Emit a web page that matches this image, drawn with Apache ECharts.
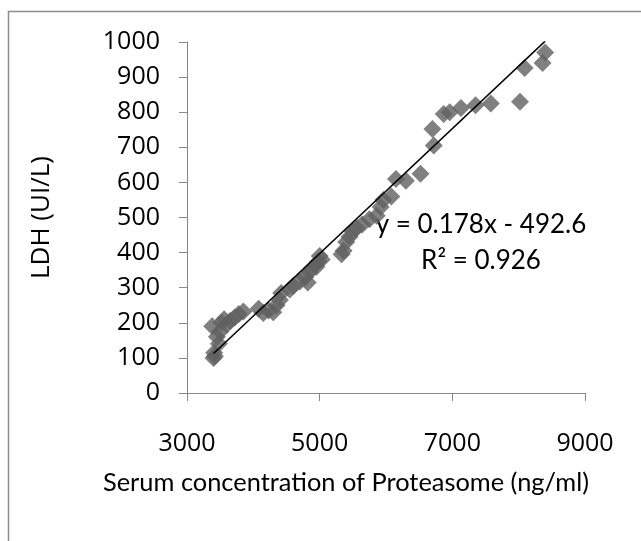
<!DOCTYPE html>
<html><head><meta charset="utf-8">
<script src="https://cdn.jsdelivr.net/npm/echarts@6/dist/echarts.min.js"></script>
<style>html,body{margin:0;padding:0;background:#fff}#c{width:641px;height:541px}</style>
</head><body><div id="c"></div>
<script>
const proteasome = [3400,3410,3420,3380,3450,3480,3500,3520,3560,3600,3650,3720,3780,3850,4080,4150,4230,4300,4350,4420,4400,4550,4600,4700,4780,4820,4850,4880,4950,4980,5000,5030,5330,5360,5400,5450,5500,5560,5640,5750,5860,5920,5960,6080,6150,6300,6520,6720,6700,6870,6960,7130,7350,7580,8020,8090,8360,8400];
const ldh = [100,115,105,190,160,140,175,200,210,195,205,215,225,232,240,228,235,230,250,285,265,295,305,318,330,315,345,355,360,375,390,380,395,405,430,445,460,470,480,495,505,530,550,560,610,605,625,705,752,795,800,812,820,825,830,926,940,970];
const slope = 0.178, intercept = -492.6;
const trendRange = [3400, 8400];
const xTicks = [3000, 5000, 7000, 9000];
const equationText = 'y = 0.178x - 492.6';
const r2Text = 'R² = 0.926';

const pts = proteasome.map((x, i) => [x, ldh[i]]);
const trend = trendRange.map(x => [x, slope * x + intercept]);
const chart = echarts.init(document.getElementById('c'), null, {renderer: 'canvas'});
const font = 'Open Sans';
chart.setOption({
  animation: false,
  backgroundColor: '#fff',
  grid: {left: 187, top: 42, right: 56, bottom: 148, containLabel: false},
  xAxis: {
    type: 'value', min: xTicks[0], max: xTicks[xTicks.length - 1], interval: 2000,
    splitLine: {show: false},
    axisLine: {lineStyle: {color: '#888', width: 1}},
    axisTick: {length: 8, lineStyle: {color: '#888'}},
    axisLabel: {color: '#000', fontSize: 25, fontFamily: font, margin: 38, formatter: v => String(v)},
    name: 'Serum concentration of Proteasome (ng/ml)', nameLocation: 'middle', nameGap: 77,
    nameMoveOverlap: false,
    nameTextStyle: {color: '#000', fontSize: 25.4, fontFamily: 'Lato', padding: [0, 80, 0, 0]}
  },
  yAxis: {
    type: 'value', min: 0, max: 1000, interval: 100,
    splitLine: {show: false},
    axisLine: {show: true, lineStyle: {color: '#888', width: 1}},
    axisTick: {show: true, length: 8, lineStyle: {color: '#888'}},
    axisLabel: {color: '#000', fontSize: 25, fontFamily: font, margin: 27, formatter: v => String(v)},
    name: 'LDH (UI/L)', nameLocation: 'middle', nameGap: 132,
    nameMoveOverlap: false,
    nameTextStyle: {color: '#000', fontSize: 26, fontFamily: font}
  },
  series: [
    {type: 'scatter', data: pts, symbol: 'diamond', symbolSize: 18,
     itemStyle: {color: '#606060'}, z: 2},
    {type: 'line', data: trend, symbol: 'none', lineStyle: {color: '#000', width: 1.5}, z: 3}
  ],
  graphic: [
    {type: 'rect', shape: {x: 8.5, y: 11.5, width: 800, height: 800}, style: {fill: null, stroke: '#8c8c8c', lineWidth: 1.5}, silent: true},
    {type: 'text', x: 481, y: 225, style: {text: equationText, font: '26px Lato', fill: '#000', align: 'center', verticalAlign: 'middle'}},
    {type: 'text', x: 481, y: 261, style: {text: r2Text, font: '26px Lato', fill: '#000', align: 'center', verticalAlign: 'middle'}}
  ]
});
</script></body></html>
